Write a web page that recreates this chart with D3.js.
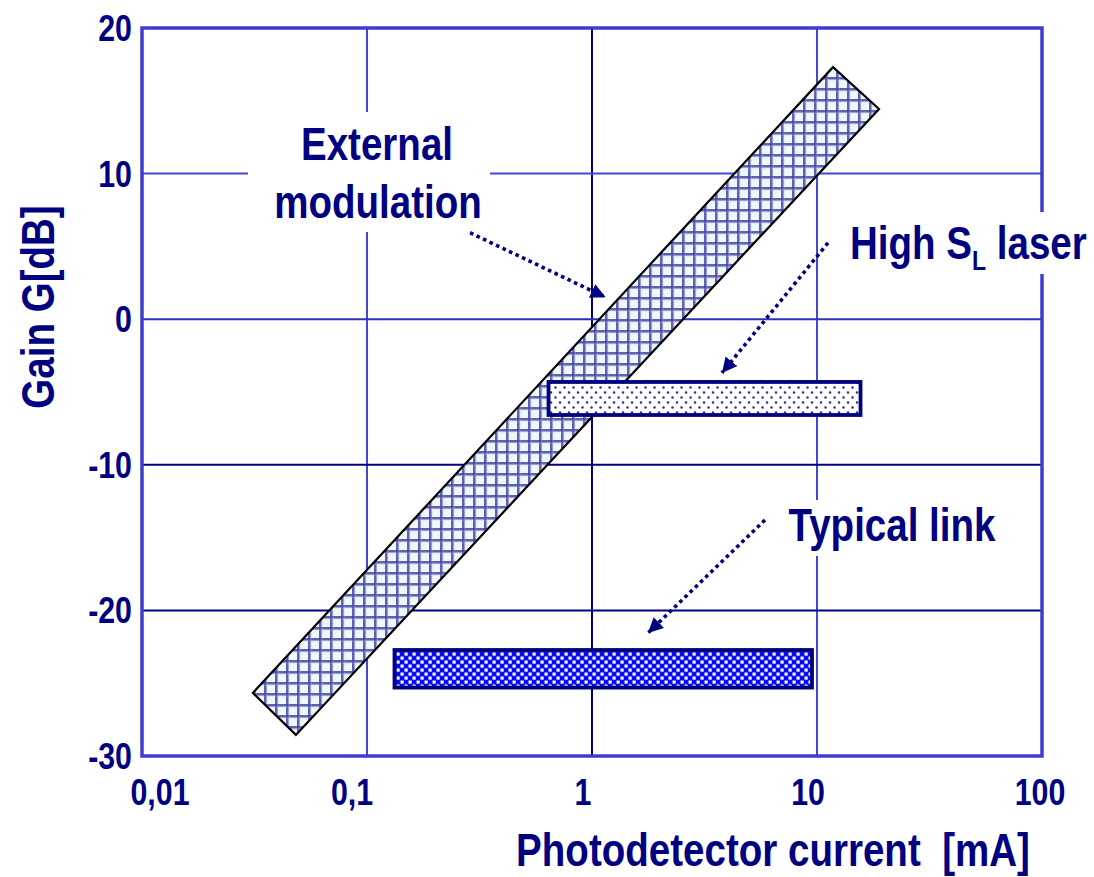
<!DOCTYPE html>
<html><head><meta charset="utf-8">
<script src="https://cdn.jsdelivr.net/npm/d3@7"></script>
<style>body{margin:0;background:#fff}</style>
</head><body>
<svg id="chart" width="1094" height="877"></svg>
<script>
// ---------------- data ----------------
const xTickValues = [0.01, 0.1, 1, 10, 100];
const xTickLabels = ["0,01", "0,1", "1", "10", "100"];
const yTickValues = [-30, -20, -10, 0, 10, 20];
const yTickLabels = ["-30", "-20", "-10", "0", "10", "20"];
const xGridValues = [0.1, 1, 10];
const yGridValues = [-20, -10, 0, 10];

// External modulation band: corner points (current mA, gain dB)
const bandCurrent = [11.78, 18.86, 0.0483, 0.0311];
const bandGain = [17.31, 14.44, -28.55, -25.67];

// Rectangular ranges
const barNames = ["High SL laser", "Typical link"];
const barCurrentMin = [0.641, 0.1325];
const barCurrentMax = [15.61, 9.50];
const barGainTop = [-4.31, -22.72];
const barGainBottom = [-6.58, -25.30];

// Annotation arrows (from label to region)
const arrowFromCurrent = [0.287, 11.19, 5.87];
const arrowFromGain = [5.94, 5.24, -13.79];
const arrowToCurrent = [1.150, 3.78, 1.774];
const arrowToGain = [1.50, -3.69, -21.55];

// ---------------- drawing ----------------
const NAVY = "#000080";
const LIGHT = "#4646d6";
const FONT = "'Liberation Sans',Arial,sans-serif";
const SX = 0.82; // horizontal condensing (Arial Narrow look)

const svg = d3.select("#chart");
svg.append("rect").attr("width", 1094).attr("height", 877).attr("fill", "#fff");

const x = d3.scaleLog().domain([0.01, 100]).range([142, 1042]);
const y = d3.scaleLinear().domain([-30, 20]).range([756, 28]);

const defs = svg.append("defs");
// grid pattern for external modulation band
const pg = defs.append("pattern").attr("id", "gridpat").attr("patternUnits", "userSpaceOnUse")
  .attr("width", 11).attr("height", 11);
pg.append("rect").attr("width", 11).attr("height", 11).attr("fill", "#eff8f8");
pg.append("rect").attr("x", 0).attr("y", 0).attr("width", 11).attr("height", 2.6).attr("fill", "#4545a5").attr("opacity", 0.85);
pg.append("rect").attr("x", 0).attr("y", 0).attr("width", 2.6).attr("height", 11).attr("fill", "#4545a5").attr("opacity", 0.85);
pg.append("rect").attr("x", 0).attr("y", 2.6).attr("width", 11).attr("height", 0.8).attr("fill", "#b0b0dc").attr("opacity", 0.5);
pg.append("rect").attr("x", 2.6).attr("y", 0).attr("width", 0.8).attr("height", 11).attr("fill", "#b0b0dc").attr("opacity", 0.5);

// dots pattern for high SL laser
const pd = defs.append("pattern").attr("id", "dotpat").attr("patternUnits", "userSpaceOnUse")
  .attr("width", 9).attr("height", 10);
pd.append("rect").attr("width", 9).attr("height", 10).attr("fill", "#fff");
pd.append("circle").attr("cx", 2).attr("cy", 2.5).attr("r", 1.25).attr("fill", "#2f2fa0");
pd.append("circle").attr("cx", 6.5).attr("cy", 7.5).attr("r", 1.25).attr("fill", "#2f2fa0");

// checker pattern for typical link
const pc = defs.append("pattern").attr("id", "chkpat").attr("patternUnits", "userSpaceOnUse")
  .attr("width", 8).attr("height", 8);
pc.append("rect").attr("width", 8).attr("height", 8).attr("fill", "#0a0af0");
pc.append("rect").attr("x", 0.5).attr("y", 0.5).attr("width", 3.2).attr("height", 3.2).attr("fill", "#f4f4ff");
pc.append("rect").attr("x", 4.5).attr("y", 4.5).attr("width", 3.2).attr("height", 3.2).attr("fill", "#f4f4ff");

// arrow head marker
defs.append("marker").attr("id", "arrowhead").attr("markerUnits", "userSpaceOnUse")
  .attr("markerWidth", 18).attr("markerHeight", 18).attr("refX", 15).attr("refY", 8)
  .attr("orient", "auto")
  .append("path").attr("d", "M0,0.5 L15,8 L0,15.5 Z").attr("fill", NAVY);

const [x0, x1] = x.range();
const [yb, yt] = y.range();

// gridlines
const darkX = new Set([1]);
const darkY = new Set([-10, -20]);
svg.append("g").selectAll("line").data(xGridValues).join("line")
  .attr("x1", d => x(d)).attr("x2", d => x(d)).attr("y1", yt).attr("y2", yb)
  .attr("stroke", d => darkX.has(d) ? NAVY : LIGHT).attr("stroke-width", 2);
svg.append("g").selectAll("line").data(yGridValues).join("line")
  .attr("x1", x0).attr("x2", x1).attr("y1", d => y(d)).attr("y2", d => y(d))
  .attr("stroke", d => darkY.has(d) ? NAVY : (d === 0 ? "#2f2fbf" : LIGHT)).attr("stroke-width", 2);

// frame
svg.append("rect").attr("x", x0).attr("y", yt).attr("width", x1 - x0).attr("height", yb - yt)
  .attr("fill", "none").attr("stroke", "#3c3cd2").attr("stroke-width", 3.5);

// band
const bandPts = bandCurrent.map((c, i) => [x(c), y(bandGain[i])]);
svg.append("path").attr("d", d3.line()(bandPts) + "Z")
  .attr("fill", "url(#gridpat)").attr("stroke", "#000").attr("stroke-width", 2.2)
  .attr("stroke-linejoin", "miter");

// bars
const fills = ["url(#dotpat)", "url(#chkpat)"];
svg.append("g").selectAll("rect").data(barNames).join("rect")
  .attr("x", (d, i) => x(barCurrentMin[i]))
  .attr("width", (d, i) => x(barCurrentMax[i]) - x(barCurrentMin[i]))
  .attr("y", (d, i) => y(barGainTop[i]))
  .attr("height", (d, i) => y(barGainBottom[i]) - y(barGainTop[i]))
  .attr("fill", (d, i) => fills[i]).attr("stroke", NAVY).attr("stroke-width", 3.8);

// text boxes (white background)
const boxes = [[248, 112, 242, 120], [840, 212, 250, 62], [780, 500, 223, 56]];
svg.append("g").selectAll("rect").data(boxes).join("rect")
  .attr("x", d => d[0]).attr("y", d => d[1]).attr("width", d => d[2]).attr("height", d => d[3])
  .attr("fill", "#fff");

const txt = (xx, yy, s, size, anchor, rot) => svg.append("text")
  .attr("transform", `translate(${xx},${yy})` + (rot ? ` rotate(${rot})` : "") + ` scale(${SX},1)`)
  .attr("font-family", FONT).attr("font-weight", "bold").attr("font-size", size)
  .attr("fill", NAVY).attr("text-anchor", anchor || "middle").style("white-space", "pre").text(s);

txt(377, 160, "External", 47);
txt(378, 218, "modulation", 47);
const hs = txt(850, 259, "High S", 47, "start");
hs.append("tspan").attr("font-size", 28).attr("dy", 11).text("L");
hs.append("tspan").attr("font-size", 47).attr("dy", -11).text(" laser");
txt(892, 541, "Typical link", 47);

// arrows
svg.append("g").selectAll("line").data(arrowFromCurrent).join("line")
  .attr("x1", (d, i) => x(d)).attr("y1", (d, i) => y(arrowFromGain[i]))
  .attr("x2", (d, i) => x(arrowToCurrent[i])).attr("y2", (d, i) => y(arrowToGain[i]))
  .attr("stroke", NAVY).attr("stroke-width", 3.6).attr("stroke-dasharray", "3.6,3.6")
  .attr("marker-end", "url(#arrowhead)");

// tick labels
const nudge = { 0.01: 18, 0.1: -15, 1: -9, 10: -9, 100: -2 };
xTickValues.forEach((v, i) => txt(x(v) + nudge[v], 805, xTickLabels[i], 37));
yTickValues.forEach((v, i) => txt(132, y(v) + 13, yTickLabels[i], 37, "end"));

// axis titles
txt(773, 866, "Photodetector current  [mA]", 47);
txt(54, 307, "Gain G[dB]", 47, "middle", -90);
</script>
</body></html>
